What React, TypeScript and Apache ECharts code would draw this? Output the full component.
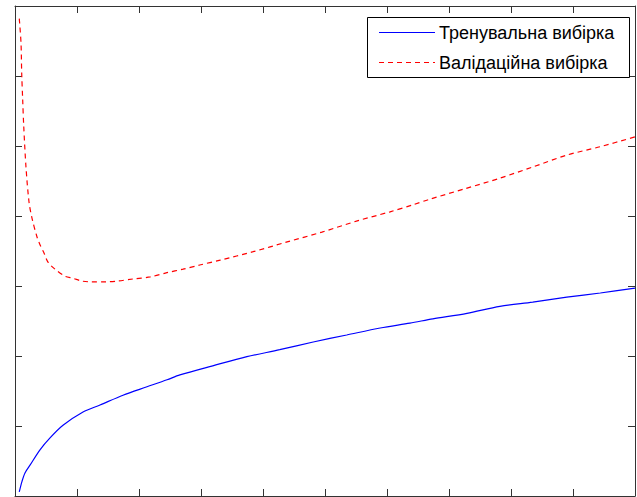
import React, { useEffect, useRef } from "react";
import * as echarts from "echarts";

const seriesNames = ["Тренувальна вибірка", "Валідаційна вибірка"];

const trainX = [0.069, 0.113, 0.161, 0.242, 0.403, 0.565, 0.774, 1.097, 1.371, 1.742, 2.129, 2.452, 2.66, 3.19, 3.74, 4.27, 4.81, 5.35, 5.89, 6.37, 6.74, 7.29, 7.82, 8.35, 8.9, 9.44, 10.0];
const trainY = [0.06, 0.21, 0.33, 0.44, 0.66, 0.83, 1.01, 1.2, 1.3, 1.44, 1.56, 1.66, 1.73, 1.86, 1.99, 2.09, 2.2, 2.3, 2.4, 2.47, 2.53, 2.61, 2.71, 2.77, 2.84, 2.9, 2.97];

const valX = [0.069, 0.097, 0.108, 0.124, 0.14, 0.177, 0.226, 0.274, 0.355, 0.403, 0.468, 0.532, 0.645, 0.806, 0.935, 1.081, 1.21, 1.48, 1.65, 1.9, 2.18, 2.45, 2.71, 2.98, 3.31, 3.84, 4.39, 4.95, 5.52, 6.05, 6.42, 6.69, 7.26, 7.82, 8.35, 8.9, 9.44, 10.0];
const valY = [6.82, 6.47, 6.04, 5.66, 5.3, 4.7, 4.2, 3.97, 3.7, 3.59, 3.47, 3.34, 3.24, 3.14, 3.11, 3.07, 3.06, 3.06, 3.07, 3.1, 3.13, 3.19, 3.24, 3.3, 3.37, 3.49, 3.63, 3.77, 3.93, 4.06, 4.16, 4.24, 4.39, 4.54, 4.7, 4.87, 4.99, 5.13];

const xMin = 0;
const xMax = 10;
const xStep = 1;
const yMin = 0;
const yMax = 7;
const yStep = 1;

const colors = ["#0000ff", "#ff0000"];

export default function App() {
  const ref = useRef<HTMLDivElement>(null);
  useEffect(() => {
    if (!ref.current) return;
    const chart = echarts.init(ref.current, undefined, { renderer: "svg" });
    const axisColor = "#333";
    const mkX = (pos: string) => ({
      type: "value",
      position: pos,
      min: xMin,
      max: xMax,
      interval: xStep,
      axisLine: { show: true, onZero: false, lineStyle: { color: axisColor, width: 1 } },
      axisTick: { show: true, inside: true, length: 7, lineStyle: { color: axisColor } },
      axisLabel: { show: false },
      splitLine: { show: false },
    });
    const mkY = (pos: string) => ({
      type: "value",
      position: pos,
      min: yMin,
      max: yMax,
      interval: yStep,
      axisLine: { show: true, onZero: false, lineStyle: { color: axisColor, width: 1 } },
      axisTick: { show: true, inside: true, length: 7, lineStyle: { color: axisColor } },
      axisLabel: { show: false },
      splitLine: { show: false },
    });
    const font = "'Liberation Sans', Arial, sans-serif";
    chart.setOption({
      animation: false,
      backgroundColor: "#fff",
      grid: { left: 15, top: 6, right: 2, bottom: 1, containLabel: false },
      xAxis: [mkX("bottom"), mkX("top")],
      yAxis: [mkY("left"), mkY("right")],
      graphic: [
        {
          type: "rect",
          shape: { x: 367.5, y: 17.5, width: 262, height: 60 },
          style: { fill: "#fff", stroke: "#000", lineWidth: 1 },
          z: 100,
        },
        {
          type: "line",
          shape: { x1: 379, y1: 32.5, x2: 435, y2: 32.5 },
          style: { stroke: colors[0], lineWidth: 1.2 },
          z: 101,
        },
        {
          type: "line",
          shape: { x1: 379, y1: 62.5, x2: 435, y2: 62.5 },
          style: { stroke: colors[1], lineWidth: 1.2, lineDash: [5, 4] },
          z: 101,
        },
        {
          type: "text",
          x: 439,
          y: 33,
          style: { text: seriesNames[0], font: "18px " + font, fill: "#000", textVerticalAlign: "middle", verticalAlign: "middle" },
          z: 101,
        },
        {
          type: "text",
          x: 439,
          y: 63,
          style: { text: seriesNames[1], font: "18px " + font, fill: "#000", textVerticalAlign: "middle", verticalAlign: "middle" },
          z: 101,
        },
      ],
      series: [
        {
          name: seriesNames[0],
          type: "line",
          xAxisIndex: 0,
          yAxisIndex: 0,
          showSymbol: false,
          symbol: "none",
          smooth: 0.3,
          lineStyle: { color: colors[0], width: 1.2 },
          itemStyle: { color: colors[0] },
          data: trainX.map((x, i) => [x, trainY[i]]),
        },
        {
          name: seriesNames[1],
          type: "line",
          xAxisIndex: 0,
          yAxisIndex: 0,
          showSymbol: false,
          symbol: "none",
          smooth: 0.3,
          lineStyle: { color: colors[1], width: 1.2, type: [5, 4] },
          itemStyle: { color: colors[1] },
          data: valX.map((x, i) => [x, valY[i]]),
        },
      ],
    });
    return () => chart.dispose();
  }, []);
  return (
    <div
      ref={ref}
      style={{ position: "fixed", left: 0, top: 0, width: 637, height: 497, background: "#fff" }}
    />
  );
}
